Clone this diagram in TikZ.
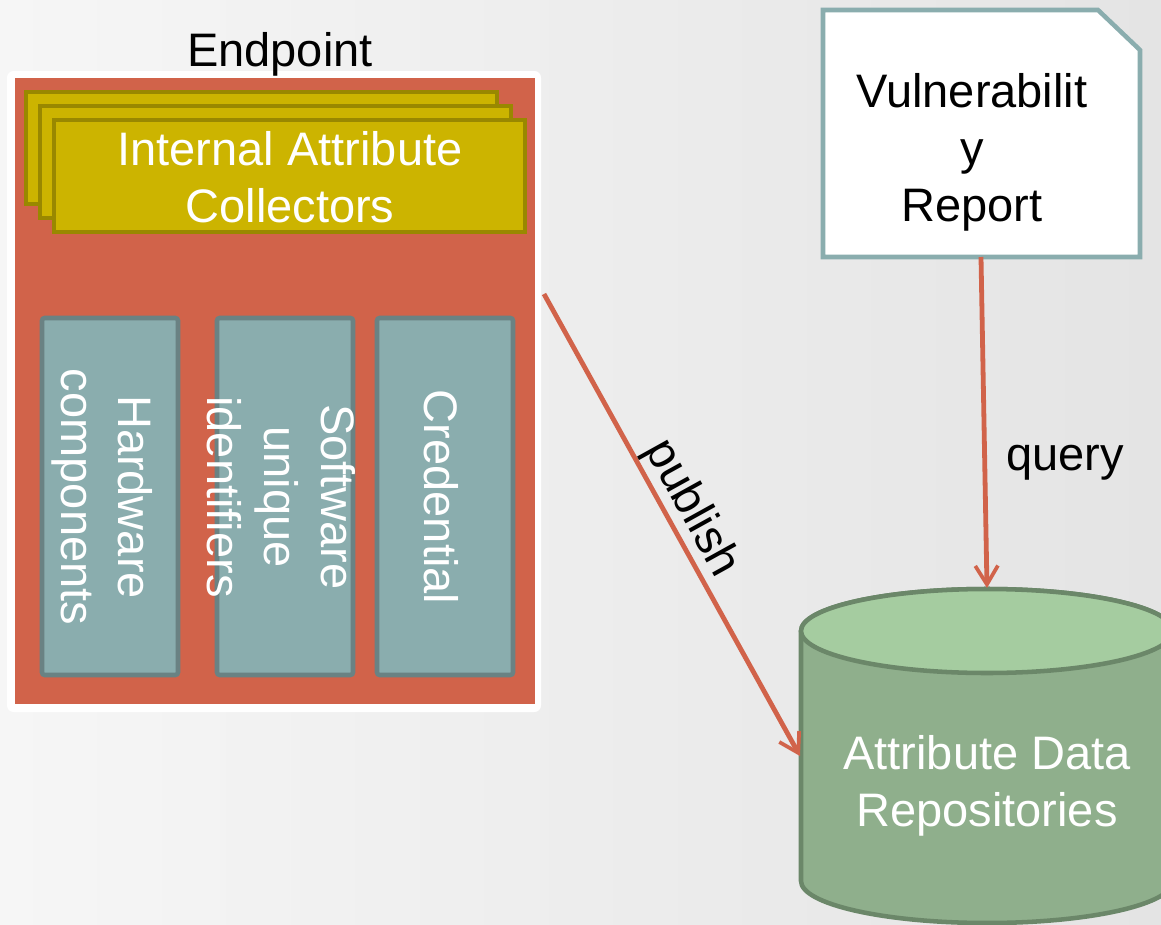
\documentclass[tikz,border=0pt]{standalone}
\usepackage{fontspec}
\setmainfont{Liberation Sans}
\usetikzlibrary{arrows.meta}

\definecolor{bgleft}{HTML}{F6F6F6}
\definecolor{bgright}{HTML}{E4E4E4}
\definecolor{endorange}{HTML}{D1634A}
\definecolor{collfill}{HTML}{CCB400}
\definecolor{colldraw}{HTML}{998800}
\definecolor{tealfill}{HTML}{8AADAE}
\definecolor{tealdraw}{HTML}{6A8283}
\definecolor{repobody}{HTML}{8FAF8C}
\definecolor{repotopc}{HTML}{A5CCA0}
\definecolor{repodraw}{HTML}{6B8769}

\tikzset{
  big/.style={font=\fontsize{35.25}{42.75}\selectfont, inner sep=0pt},
  collector/.style={draw=colldraw, fill=collfill, line width=3pt},
  attrbox/.style={draw=tealdraw, fill=tealfill, line width=3.4pt, rounded corners=2pt},
  vlabel/.style={big, text=white, rotate=-90, align=center},
  flow/.style={draw=endorange, line width=3.6pt,
    -{Straight Barb[length=14pt, width=17pt, line width=2.8pt]}}
}

\begin{document}
% one unit = one pixel of a 1161 x 925 canvas, y pointing down
\begin{tikzpicture}[x=0.75pt, y=-0.75pt]
  \useasboundingbox (0,0) rectangle (1161,925);
  \clip (0,0) rectangle (1161,925);
  \shade[left color=bgleft, right color=bgright] (0,0) rectangle (1161,925);

  % endpoint frame
  \fill[white, rounded corners=5pt] (7,71) rectangle (541,712);
  \fill[endorange] (15,78) rectangle (535,704);
  \node[big, anchor=base] (endpoint) at (280,66) {Endpoint};

  % stacked collectors
  \draw[collector] (26,92) rectangle (497,204);
  \draw[collector] (40,106) rectangle (511,218);
  \draw[collector] (54,120) rectangle (525,232);
  \node[big, text=white, align=center] (coll) at (290,177)
    {Internal Attribute\\Collectors};

  % attribute boxes
  \draw[attrbox] (42,318) rectangle (178,675);
  \draw[attrbox] (217,318) rectangle (353,675);
  \draw[attrbox] (377,318) rectangle (513,675);
  \node[vlabel] (hw) at (102.5,497) {Hardware\\components};
  \node[vlabel] (sw) at (281,497) {Software\\unique\\identifiers};
  \node[vlabel] (cred) at (441.5,497) {Credential};

  % vulnerability report document
  \draw[tealfill, line width=3.4pt, fill=white, line join=miter]
    (823,10) -- (1098,10) -- (1140,50) -- (1140,257) -- (823,257) -- cycle;
  \node[big, align=center] (report) at (972,152)
    {Vulnerabilit\\y\\Report};

  % attribute data repository cylinder
  \draw[repodraw, line width=3.4pt, fill=repobody]
    (801,631) -- (801,881)
    arc[start angle=180, end angle=0, x radius=186, y radius=42]
    -- (1173,631)
    arc[start angle=0, end angle=-180, x radius=186, y radius=42] -- cycle;
  \draw[repodraw, line width=3.4pt, fill=repotopc]
    (987,631) ellipse[x radius=186, y radius=42];
  \node[big, text=white, align=center] (repo) at (987,786)
    {Attribute Data\\Repositories};

  % connector end points
  \coordinate (pubstart) at (544,294);
  \coordinate (pubend) at (800,756);
  \coordinate (qstart) at (981,257);
  \coordinate (qend) at (987,588);

  \draw[flow] (pubstart) -- coordinate[pos=0.49] (pubmid) (pubend);
  \node[big, rotate=-61, anchor=base] (publbl) at ([shift={(11,-6)}]pubmid) {publish};
  \draw[flow] (qstart) -- (qend);
  \node[big, anchor=base] (qlbl) at (1065,470) {query};
\end{tikzpicture}
\end{document}
